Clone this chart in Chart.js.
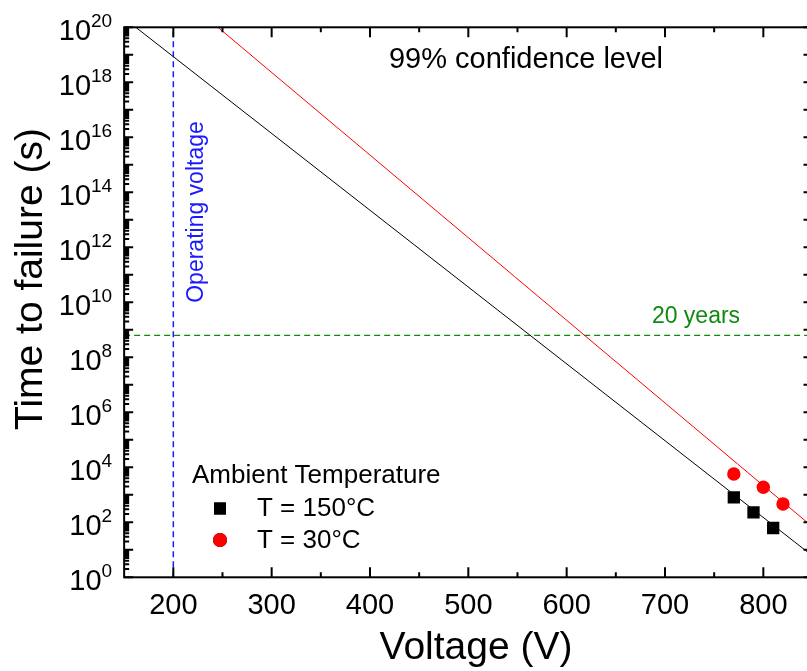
<!DOCTYPE html>
<html>
<head>
<meta charset="utf-8">
<script src="https://cdn.jsdelivr.net/npm/chart.js@4/dist/chart.umd.min.js"></script>
<style>
  html, body { margin: 0; padding: 0; background: #fff; overflow: hidden; }
  #wrap { width: 830px; height: 671px; }
</style>
</head>
<body>
<div id="wrap"><canvas id="c" width="830" height="671"></canvas></div>
<script>
// Measured failure times (s) at each test voltage (V)
const volts150 = [770, 790, 810];
const tff150 = [811, 231, 62];
const volts30 = [770, 800, 820];
const tff30 = [5700, 1875, 463];

// Extrapolated 99% confidence lines (end points)
const fitVolts150 = [150, 850];
const fitTff150 = [2.14e20, 6.0];
const fitVolts30 = [240, 850];
const fitTff30 = [1.45e20, 68];

// Reference markers
const operatingVoltage = 200;
const twentyYears = 20 * 365.25 * 86400; // s

// Axis ticks
const xTickLabels = [200, 300, 400, 500, 600, 700, 800];
const xMinorTicks = [250, 350, 450, 550, 650, 750, 850];
const yLabelExponents = [0, 2, 4, 6, 8, 10, 12, 14, 16, 18, 20];

const FONT = '"Liberation Sans", Arial, Helvetica, sans-serif';

const toXY = (xs, ys) => xs.map((v, i) => ({ x: v, y: ys[i] }));

// Frame, inward ticks, power-of-ten labels, titles and annotations
const decorations = {
  id: 'decorations',
  afterDraw(chart) {
    const { ctx, chartArea: a, scales: { x, y } } = chart;
    ctx.save();

    // inward ticks on all four sides
    ctx.strokeStyle = '#000';
    ctx.lineWidth = 2;
    ctx.beginPath();
    const xTick = (v, len) => {
      const p = x.getPixelForValue(v);
      ctx.moveTo(p, a.bottom); ctx.lineTo(p, a.bottom - len);
      ctx.moveTo(p, a.top); ctx.lineTo(p, a.top + len);
    };
    const yTick = (v, len) => {
      const p = y.getPixelForValue(v);
      ctx.moveTo(a.left, p); ctx.lineTo(a.left + len, p);
      ctx.moveTo(a.right, p); ctx.lineTo(a.right - len, p);
    };
    xTickLabels.forEach(v => xTick(v, 10));
    xMinorTicks.forEach(v => xTick(v, 5));
    for (let e = 0; e <= 20; e++) {
      yTick(Math.pow(10, e), 9);
      if (e < 20) for (let m = 2; m <= 9; m++) yTick(m * Math.pow(10, e), 5);
    }
    ctx.stroke();

    // frame
    ctx.lineWidth = 2;
    ctx.strokeRect(a.left, a.top, a.right - a.left, a.bottom - a.top);

    // y labels: 10 with superscript exponent
    ctx.fillStyle = '#000';
    ctx.textAlign = 'right';
    ctx.textBaseline = 'alphabetic';
    yLabelExponents.forEach(e => {
      const p = y.getPixelForValue(Math.pow(10, e));
      const right = a.left - 12;
      ctx.font = '19px ' + FONT;
      const sup = String(e);
      const w = ctx.measureText(sup).width;
      ctx.fillText(sup, right, p - 0.5);
      ctx.font = '29px ' + FONT;
      ctx.fillText('10', right - w, p + 12.7);
    });

    // axis titles
    ctx.textAlign = 'center';
    ctx.font = '39px ' + FONT;
    ctx.fillText('Voltage (V)', 476, 659);
    ctx.textAlign = 'left';
    ctx.save();
    ctx.translate(41.7, 430);
    ctx.rotate(-Math.PI / 2);
    ctx.fillText('Time to failure (s)', 0, 0);
    ctx.restore();

    // annotations
    ctx.textAlign = 'center';
    ctx.font = '29px ' + FONT;
    ctx.fillText('99% confidence level', 526, 68);

    ctx.fillStyle = '#0f8a0f';
    ctx.font = '23px ' + FONT;
    ctx.fillText('20 years', 696, 323);

    ctx.fillStyle = '#1a1aff';
    ctx.font = '23px ' + FONT;
    ctx.save();
    ctx.translate(x.getPixelForValue(operatingVoltage) + 30, 212);
    ctx.rotate(-Math.PI / 2);
    ctx.fillText('Operating voltage', 0, 0);
    ctx.restore();

    // legend
    ctx.fillStyle = '#000';
    ctx.textAlign = 'left';
    ctx.font = '26px ' + FONT;
    ctx.fillText('Ambient Temperature', 192, 483);
    const items = [
      { ds: chart.data.datasets[2], y: 508.5, base: 515.5 },
      { ds: chart.data.datasets[3], y: 540, base: 548 }
    ];
    items.forEach(it => {
      Chart.helpers.drawPoint(ctx, {
        pointStyle: it.ds.pointStyle,
        radius: it.ds.legendRadius,
        rotation: 0,
        borderWidth: 0
      }, 220, it.y);
      ctx.fillStyle = it.ds.backgroundColor;
      ctx.fill();
      ctx.fillStyle = '#000';
      ctx.fillText(it.ds.label, 257, it.base);
    });

    ctx.restore();
  }
};

new Chart(document.getElementById('c'), {
  type: 'scatter',
  data: {
    datasets: [
      {
        label: 'fit 150',
        data: toXY(fitVolts150, fitTff150),
        showLine: true, borderColor: '#000', borderWidth: 1,
        pointRadius: 0, order: 3
      },
      {
        label: 'fit 30',
        data: toXY(fitVolts30, fitTff30),
        showLine: true, borderColor: '#ff0000', borderWidth: 1,
        pointRadius: 0, order: 3
      },
      {
        label: 'T = 150°C',
        data: toXY(volts150, tff150),
        pointStyle: 'rect', pointRadius: 8.7, legendRadius: 8.5,
        backgroundColor: '#000', borderColor: '#000', borderWidth: 0,
        order: 1
      },
      {
        label: 'T = 30°C',
        data: toXY(volts30, tff30),
        pointStyle: 'circle', pointRadius: 6.7, legendRadius: 7,
        backgroundColor: '#ff0000', borderColor: '#ff0000', borderWidth: 0,
        order: 1
      },
      {
        label: 'Operating voltage',
        data: [{ x: operatingVoltage, y: 1 }, { x: operatingVoltage, y: 1e20 }],
        showLine: true, borderColor: '#1a1aff', borderWidth: 1.5,
        borderDash: [6, 4], pointRadius: 0, order: 4
      },
      {
        label: '20 years',
        data: [{ x: 150, y: twentyYears }, { x: 850, y: twentyYears }],
        showLine: true, borderColor: '#0f8a0f', borderWidth: 1.3,
        borderDash: [6, 4], pointRadius: 0, order: 4
      }
    ]
  },
  options: {
    responsive: false,
    animation: false,
    events: [],
    layout: { padding: { left: 0, right: 17.5, top: 27.3, bottom: 0 } },
    plugins: { legend: { display: false }, tooltip: { enabled: false } },
    scales: {
      x: {
        type: 'linear', min: 150, max: 850,
        afterBuildTicks: s => { s.ticks = xTickLabels.map(v => ({ value: v })); },
        afterFit: s => { s.height = 93.7; },
        grid: { display: false, drawTicks: false },
        border: { display: false },
        ticks: {
          color: '#000', padding: 11, maxRotation: 0,
          font: { family: FONT, size: 29 }
        }
      },
      y: {
        type: 'logarithmic', min: 1, max: 1e20,
        afterFit: s => { s.width = 124.15; },
        grid: { display: false, drawTicks: false },
        border: { display: false },
        ticks: { display: false }
      }
    }
  },
  plugins: [decorations]
});
</script>
</body>
</html>
